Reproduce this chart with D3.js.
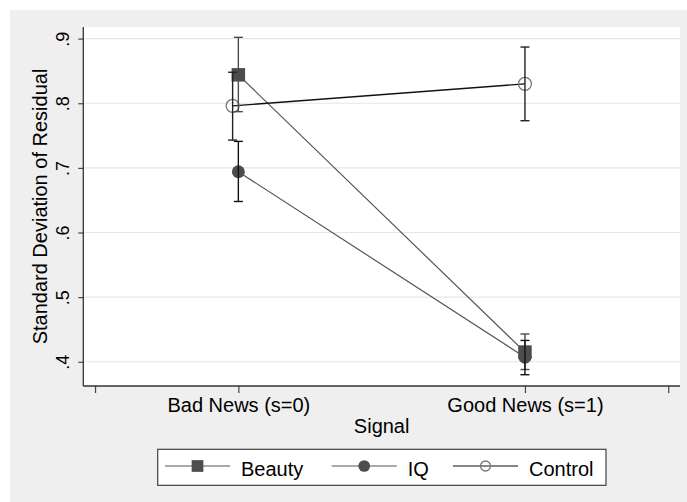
<!DOCTYPE html>
<html>
<head>
<meta charset="utf-8">
<script src="https://cdn.jsdelivr.net/npm/d3@7"></script>
<style>
  body { margin: 0; background: #fff; }
  svg { display: block; font-family: "Liberation Sans", Arial, sans-serif; }
</style>
</head>
<body>
<div id="chart"></div>
<script>
// values
const signalLabels = ["Bad News (s=0)", "Good News (s=1)"];
const seriesNames = ["Beauty", "IQ", "Control"];
const beautyX = [0, 1];
const beautyMean = [0.844, 0.415];
const beautyLo = [0.787, 0.388];
const beautyHi = [0.902, 0.443];
const iqX = [0, 1];
const iqMean = [0.694, 0.407];
const iqLo = [0.648, 0.380];
const iqHi = [0.741, 0.433];
const controlX = [-0.02, 1];
const controlMean = [0.796, 0.830];
const controlLo = [0.743, 0.773];
const controlHi = [0.848, 0.887];
const yTicks = [0.4, 0.5, 0.6, 0.7, 0.8, 0.9];
const xTicks = [-0.5, 0, 1, 1.5];

const width = 687, height = 502;
const plotLeft = 83.3, plotRight = 680, plotTop = 27, plotBottom = 386;

const svg = d3.select("#chart").append("svg")
    .attr("width", width)
    .attr("height", height);

svg.append("rect")
    .attr("x", 10).attr("y", 10)
    .attr("width", width - 10).attr("height", height - 10)
    .attr("fill", "#efefef");

svg.append("rect")
    .attr("x", plotLeft).attr("y", plotTop)
    .attr("width", plotRight - plotLeft).attr("height", plotBottom - plotTop)
    .attr("fill", "#fff");

const x = d3.scaleLinear().domain([-0.541, 1.541]).range([plotLeft, plotRight]);
const y = d3.scaleLinear().domain([0.3625, 0.918]).range([plotBottom, plotTop]);

// grid
svg.append("g").selectAll("line")
    .data(yTicks)
    .enter().append("line")
    .attr("x1", plotLeft).attr("x2", plotRight)
    .attr("y1", d => y(d)).attr("y2", d => y(d))
    .attr("stroke", "#e6e6e6")
    .attr("stroke-width", 1.2);

// axes
const yAxis = svg.append("g")
    .attr("transform", `translate(${plotLeft},0)`)
    .call(d3.axisLeft(y).tickValues(yTicks).tickSize(5).tickFormat(d => d3.format(".1f")(d).replace(/^0/, "")));
yAxis.select(".domain").remove();
yAxis.selectAll("line").attr("stroke", "#444").attr("stroke-width", 1.2);
yAxis.selectAll("text")
    .attr("transform", "rotate(-90)")
    .attr("x", 0).attr("y", -14.3).attr("dy", 0)
    .attr("text-anchor", "middle")
    .attr("fill", "#000")
    .style("font-size", "18px");

const xAxis = svg.append("g")
    .attr("transform", `translate(0,${plotBottom})`)
    .call(d3.axisBottom(x).tickValues(xTicks).tickSize(7)
        .tickFormat(d => d === 0 ? signalLabels[0] : d === 1 ? signalLabels[1] : ""));
xAxis.select(".domain").remove();
xAxis.selectAll("line").attr("stroke", "#444").attr("stroke-width", 1.2);
xAxis.selectAll("text")
    .attr("y", 26.3).attr("dy", 0)
    .attr("fill", "#000")
    .style("font-size", "20px");

svg.append("line")
    .attr("x1", plotLeft).attr("x2", plotLeft).attr("y1", plotTop).attr("y2", plotBottom)
    .attr("stroke", "#333").attr("stroke-width", 1.3);
svg.append("line")
    .attr("x1", plotLeft).attr("x2", plotRight).attr("y1", plotBottom).attr("y2", plotBottom)
    .attr("stroke", "#333").attr("stroke-width", 1.3);

svg.append("text")
    .attr("transform", `translate(46.7,${(plotTop + plotBottom) / 2}) rotate(-90)`)
    .attr("text-anchor", "middle")
    .style("font-size", "20px")
    .text("Standard Deviation of Residual");

svg.append("text")
    .attr("x", (plotLeft + plotRight) / 2).attr("y", 433.3)
    .attr("text-anchor", "middle")
    .style("font-size", "20px")
    .text("Signal");

// series
const series = [
    { name: seriesNames[0], xs: beautyX, mean: beautyMean, lo: beautyLo, hi: beautyHi,
      line: "#555", bar: "#4a4a4a", shape: "square", fill: "#4d4d4d", stroke: "#4d4d4d" },
    { name: seriesNames[1], xs: iqX, mean: iqMean, lo: iqLo, hi: iqHi,
      line: "#555", bar: "#111", shape: "circle", fill: "#4d4d4d", stroke: "#4d4d4d" },
    { name: seriesNames[2], xs: controlX, mean: controlMean, lo: controlLo, hi: controlHi,
      line: "#111", bar: "#222", shape: "circle", fill: "none", stroke: "#777" }
];

const line = d3.line().x(d => x(d[0])).y(d => y(d[1]));

series.forEach(s => {
    svg.append("path")
        .attr("d", line(d3.zip(s.xs, s.mean)))
        .attr("fill", "none")
        .attr("stroke", s.line)
        .attr("stroke-width", s.line === "#111" ? 1.4 : 1.2);
});

function marker(g, s, cx, cy, size) {
    if (s.shape === "square") {
        g.append("rect")
            .attr("x", cx - size / 2).attr("y", cy - size / 2)
            .attr("width", size).attr("height", size)
            .attr("fill", s.fill);
    } else {
        g.append("circle")
            .attr("cx", cx).attr("cy", cy).attr("r", size / 2)
            .attr("fill", s.fill)
            .attr("stroke", s.stroke)
            .attr("stroke-width", s.fill === "none" ? 1.3 : 0);
    }
}

series.forEach(s => {
    s.xs.forEach((xv, i) => marker(svg, s, x(xv), y(s.mean[i]), s.shape === "square" ? 13.5 : 13));
});

// error bars
series.forEach(s => {
    const g = svg.append("g").attr("stroke", s.bar).attr("stroke-width", 1.4);
    s.xs.forEach((xv, i) => {
        const cx = x(xv);
        g.append("line").attr("x1", cx).attr("x2", cx).attr("y1", y(s.lo[i])).attr("y2", y(s.hi[i]));
        g.append("line").attr("x1", cx - 4.5).attr("x2", cx + 4.5).attr("y1", y(s.lo[i])).attr("y2", y(s.lo[i]));
        g.append("line").attr("x1", cx - 4.5).attr("x2", cx + 4.5).attr("y1", y(s.hi[i])).attr("y2", y(s.hi[i]));
    });
});

// legend
const legend = svg.append("g");
legend.append("rect")
    .attr("x", 157.7).attr("y", 449.3)
    .attr("width", 448.3).attr("height", 36)
    .attr("fill", "#fff")
    .attr("stroke", "#404040")
    .attr("stroke-width", 1.2);

const legendX = [165, 331.7, 453];
series.forEach((s, i) => {
    const x0 = legendX[i], ly = 466;
    legend.append("line")
        .attr("x1", x0).attr("x2", x0 + 65)
        .attr("y1", ly).attr("y2", ly)
        .attr("stroke", s.line).attr("stroke-width", 1.2);
    marker(legend, s, x0 + 32.5, ly, s.fill === "none" ? 10 : 11.7);
    legend.append("text")
        .attr("x", x0 + 76).attr("y", 475.5)
        .style("font-size", "20px")
        .text(s.name);
});
</script>
</body>
</html>
